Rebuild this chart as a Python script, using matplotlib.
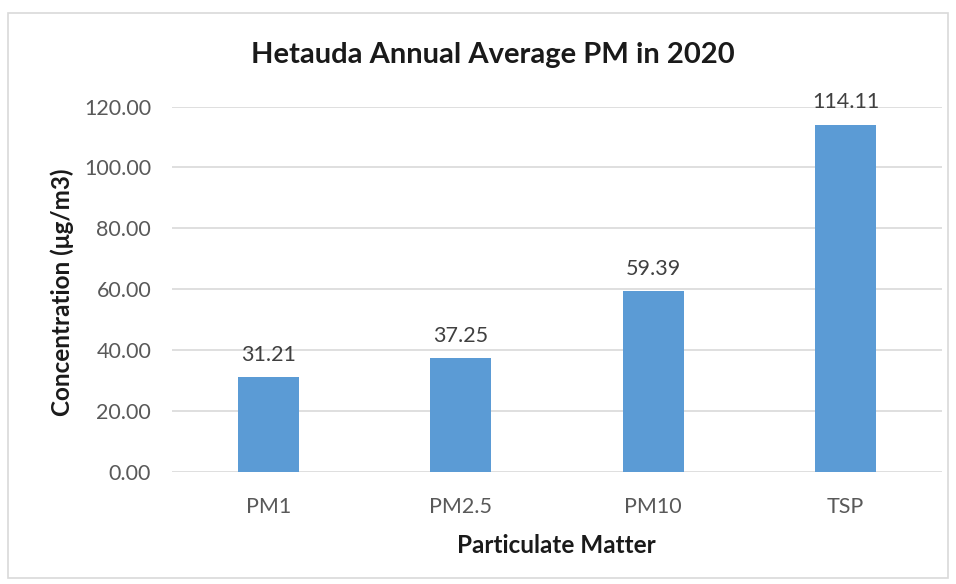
import matplotlib
matplotlib.use('Agg')
import matplotlib.pyplot as plt
from matplotlib.patches import Rectangle

plt.rcParams['font.family'] = ['Lato', 'DejaVu Sans']

categories = ['PM1', 'PM2.5', 'PM10', 'TSP']
concentration = [31.21, 37.25, 59.39, 114.11]
y_ticks = [0, 20, 40, 60, 80, 100, 120]

fig = plt.figure(figsize=(9.56, 5.84), dpi=100)
ax = fig.add_axes([0.180, 0.192, 0.805, 0.6255])

# grey frame around the whole chart area, like the Excel chart border
fig.patches.append(Rectangle((8 / 956, 6 / 584), 940 / 956, 565 / 584,
                             transform=fig.transFigure, fill=False,
                             edgecolor='#d9d9d9', linewidth=1.2))

x = range(len(categories))
bars = ax.bar(x, concentration, width=0.317, color='#5b9bd5', zorder=3)

for b, v in zip(bars, concentration):
    ax.text(b.get_x() + b.get_width() / 2, v + 4.0, f'{v:.2f}',
            ha='center', va='bottom', fontsize=15.5, color='#404040')

ax.set_xlim(-0.5, len(categories) - 0.5)
ax.set_ylim(0, 120)
ax.set_yticks(y_ticks)
ax.set_yticklabels([f'{t:.2f}' for t in y_ticks])
ax.set_xticks(list(x))
ax.set_xticklabels(categories)
ax.tick_params(axis='both', length=0, labelsize=15.5, colors='#595959')
ax.tick_params(axis='y', pad=15)
ax.tick_params(axis='x', pad=18)
ax.yaxis.grid(True, color='#d9d9d9', linewidth=1.2, zorder=0)
for s in ax.spines.values():
    s.set_visible(False)

fig.text(0.515, 0.905, 'Hetauda Annual Average PM in 2020', ha='center',
         va='center', fontsize=21, fontweight='bold', color='#1a1a1a')
ax.set_xlabel('Particulate Matter', fontsize=17.5, fontweight='bold',
              color='#1a1a1a', labelpad=12)
fig.text(0.065, 0.50, 'Concentration (μg/m3)', rotation=90, ha='center',
         va='center', fontsize=17.5, fontweight='bold', color='#1a1a1a')

fig.savefig('out.png', dpi=100)
